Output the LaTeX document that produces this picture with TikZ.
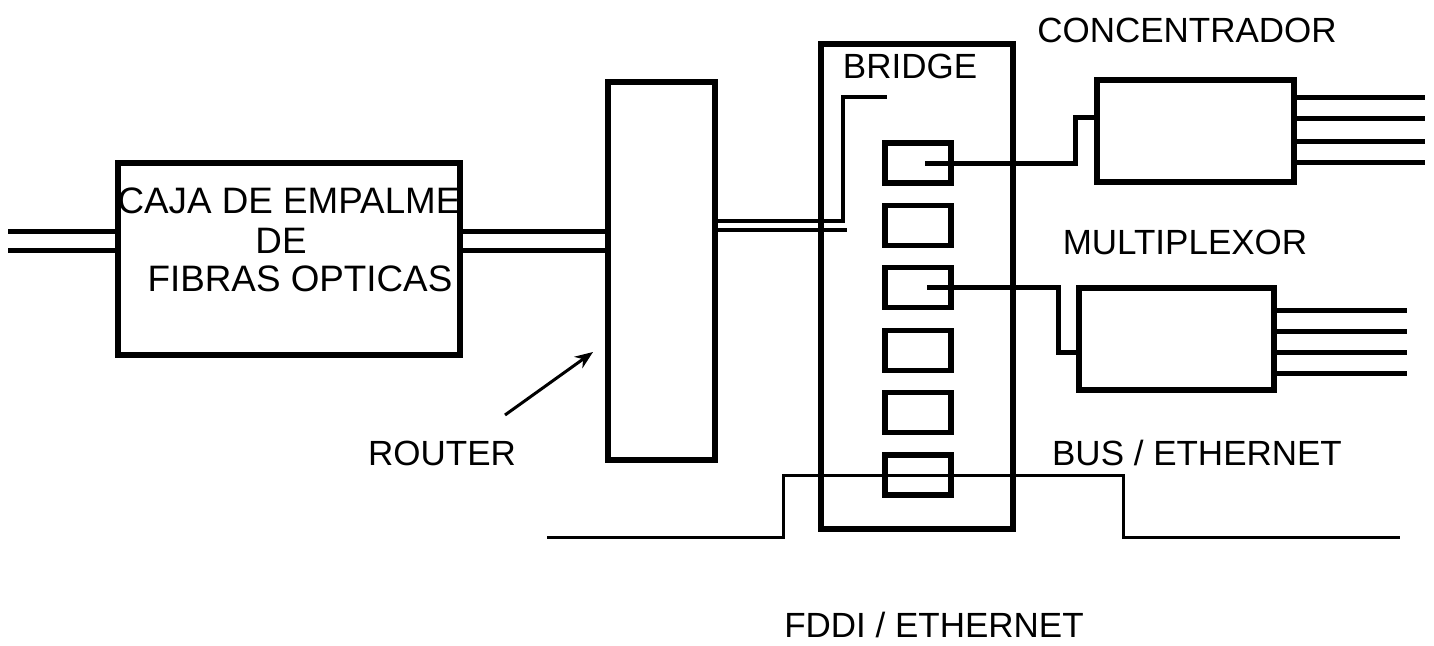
\documentclass[tikz,border=0pt]{standalone}
\usepackage{fontspec}
\setmainfont{Liberation Sans}
\usetikzlibrary{arrows.meta}
\begin{document}
\begin{tikzpicture}[x=0.5pt,y=-0.5pt,
  box/.style={draw,line width=3pt,rectangle,inner sep=0pt,outer sep=0pt},
  port/.style={box,line width=2.6pt,minimum width=33pt,minimum height=20pt},
  lbl/.style={font=\fontsize{17.5}{20}\selectfont,inner sep=0pt},
  cajalbl/.style={font=\fontsize{18.4}{21}\selectfont,inner sep=0pt},
  wire/.style={line width=2.5pt},
  fine/.style={line width=2pt},
  bus/.style={line width=1.5pt},
]
\fill[white] (0,0) rectangle (1434,645);
\useasboundingbox (0,0) rectangle (1434,645);

% boxes
\node[box,minimum width=171pt,minimum height=96pt] (caja) at (289,259) {};
\node[box,minimum width=53.5pt,minimum height=189pt] (router) at (661.5,271) {};
\node[box,minimum width=96pt,minimum height=242.5pt] (bridge) at (917,286.5) {};
\node[box,minimum width=98.5pt,minimum height=51pt] (conc) at (1195.5,131) {};
\node[box,minimum width=97.5pt,minimum height=51pt] (mux) at (1176.5,339) {};

\node[port] (p1) at (918,163) {};
\node[port] (p2) at (918,225.4) {};
\node[port] (p3) at (918,287.8) {};
\node[port] (p4) at (918,350.2) {};
\node[port] (p5) at (918,412.6) {};
\node[port] (p6) at (918,475) {};

% labels
\node[cajalbl] (tcaja1) at (289,201) {CAJA DE EMPALME};
\node[cajalbl] (tcaja2) at (281,241) {DE};
\node[cajalbl] (tcaja3) at (300,279) {FIBRAS OPTICAS};
\node[lbl] (tconc) at (1187,30) {CONCENTRADOR};
\node[lbl] (tbridge) at (910,66) {BRIDGE};
\node[lbl] (tmux) at (1185,242) {MULTIPLEXOR};
\node[lbl] (tbus) at (1197,453) {BUS / ETHERNET};
\node[lbl] (trouter) at (442,453) {ROUTER};
\node[lbl] (tfddi) at (934,625) {FDDI / ETHERNET};

% coordinates for free ends
\coordinate (in1) at (8,231);
\coordinate (in2) at (8,250);
\coordinate (rb1) at (843,221);
\coordinate (rb2) at (847,230);
\coordinate (rbtop) at (843,97);
\coordinate (rbend) at (887,97);
\coordinate (arrowtail) at (505,415);
\coordinate (arrowhead) at (593,352);

% fibre inputs
\draw[wire] (in1) -- (in1 -| caja.west);
\draw[wire] (in2) -- (in2 -| caja.west);
\draw[wire] (caja.east |- in1) -- (router.west |- in1);
\draw[wire] (caja.east |- in2) -- (router.west |- in2);

% router to bridge
\draw[fine] (router.east |- rb1) -- (rb1) -- (rbtop) -- (rbend);
\draw[fine] (router.east |- rb2) -- (rb2);

% port 1 to concentrador
\draw[wire] ([xshift=3.5pt]p1.center) -- (1075,163) -- (1075,117) -- (conc.west |- 0,117);
% port 3 to multiplexor
\draw[wire] ([xshift=4.5pt]p3.center) -- (1058,287.8) -- (1058,352) -- (mux.west |- 0,352);

% concentrador outputs
\foreach \yy in {97,118,141,162}
  \draw[wire] (conc.east |- 0,\yy) -- (1425,\yy);
% multiplexor outputs
\foreach \yy in {310,331,352,373}
  \draw[wire] (mux.east |- 0,\yy) -- (1407,\yy);

% FDDI / bus line
\draw[bus] (547,537) -- (783,537) -- (783,475) -- (1123,475) -- (1123,537) -- (1400,537);

% router arrow
\draw[line width=1.5pt,-{Stealth[length=9pt,width=7pt]}] (arrowtail) -- (arrowhead);
\end{tikzpicture}
\end{document}
